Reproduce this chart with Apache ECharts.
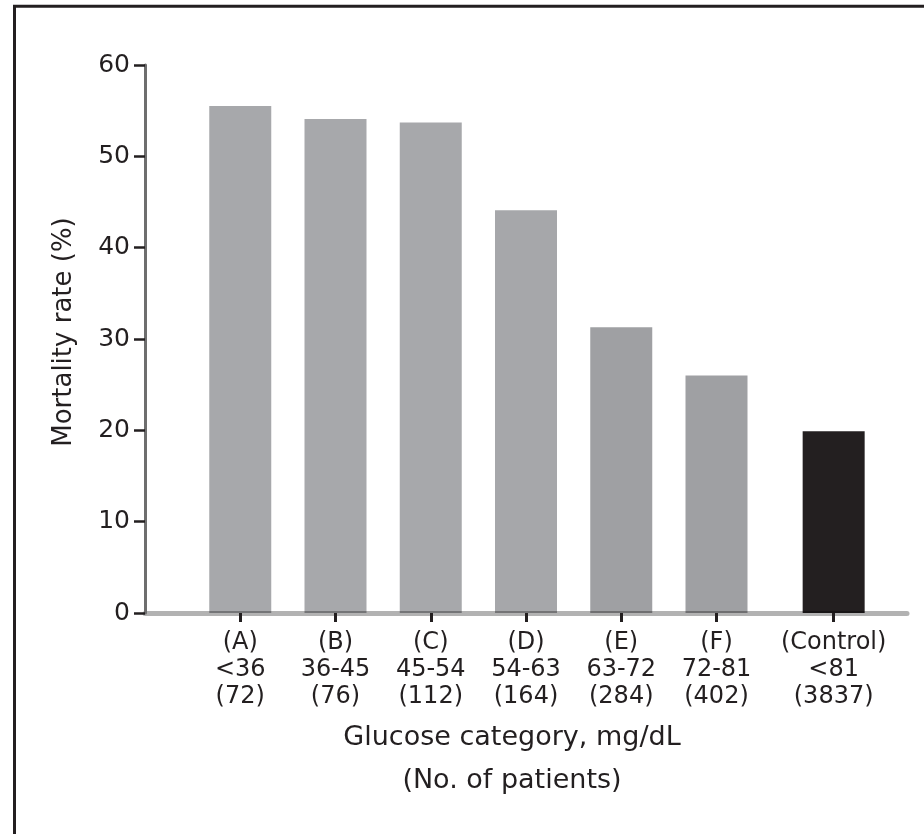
<!DOCTYPE html>
<html><head><meta charset="utf-8">
<script src="https://cdn.jsdelivr.net/npm/echarts@6/dist/echarts.min.js"></script>
<style>html,body{margin:0;padding:0;background:#fff}#c{width:924px;height:834px}</style>
</head><body><div id="c"></div>
<script>
// ---- data ----
const groupLetters = ['(A)', '(B)', '(C)', '(D)', '(E)', '(F)', '(Control)'];
const glucoseRanges = ['<36', '36-45', '45-54', '54-63', '63-72', '72-81', '<81'];
const patientCounts = ['(72)', '(76)', '(112)', '(164)', '(284)', '(402)', '(3837)'];
const mortalityRates = [55.5, 54.1, 53.7, 44.1, 31.3, 26.0, 19.9];
const yTickValues = [0, 10, 20, 30, 40, 50, 60];

// ---- layout / style ----
const controlGap = 0.23; // extra spacing before the control group
const barColors = ['#a7a8ab', '#a7a8ab', '#a7a8ab', '#a6a7aa', '#9fa0a3', '#9fa0a3', '#231f20'];
const FONT = 'DejaVu Sans';
const TXT = '#231f20';

const last = mortalityRates.length - 1;
const positions = mortalityRates.map((_, i) => i + 1 + (i === last ? controlGap : 0));
const labelFor = v => {
  const i = positions.findIndex(p => Math.abs(p - v) < 1e-6);
  return i < 0 ? '' : groupLetters[i] + '\n' + glucoseRanges[i] + '\n' + patientCounts[i];
};

const chart = echarts.init(document.getElementById('c'), null, {renderer: 'canvas'});
chart.setOption({
  animation: false,
  backgroundColor: '#fff',
  grid: {left: 145, right: 17, top: 65, bottom: 221, containLabel: false},
  xAxis: {
    type: 'value', min: 0, max: 8, z: 3,
    splitLine: {show: false},
    axisLine: {show: true, onZero: false, lineStyle: {color: 'rgba(0,0,0,0.3)', width: 5}},
    axisTick: {show: true, customValues: positions, length: 9, lineStyle: {color: '#231f20', width: 3}},
    axisLabel: {
      customValues: positions, formatter: labelFor, margin: 16,
      color: TXT, fontFamily: FONT, fontSize: 24, lineHeight: 27
    },
    name: 'Glucose category, mg/dL\n(No. of patients)',
    nameLocation: 'middle', nameGap: 103,
    nameTextStyle: {color: TXT, fontFamily: FONT, fontSize: 27, lineHeight: 43, padding: [0, 28, 0, 0]}
  },
  yAxis: {
    type: 'value', min: 0, max: 60, interval: 10, z: 4,
    splitLine: {show: false},
    axisLine: {show: true, lineStyle: {color: '#6e6e6e', width: 3}},
    axisTick: {show: true, length: 11, lineStyle: {color: '#231f20', width: 2.5}},
    axisLabel: {
      customValues: yTickValues, margin: 15,
      color: TXT, fontFamily: FONT, fontSize: 25
    },
    name: 'Mortality rate (%)',
    nameLocation: 'middle', nameGap: 68, nameRotate: 90,
    nameTextStyle: {color: TXT, fontFamily: FONT, fontSize: 26, padding: [0, 0, 0, 14]}
  },
  series: [{
    type: 'bar',
    barWidth: 62,
    data: positions.map((p, i) => [p, mortalityRates[i]]),
    itemStyle: {color: params => barColors[params.dataIndex]}
  }],
  graphic: [{
    type: 'polyline',
    shape: {points: [[14.5, 834], [14.5, 6.2], [924, 6.2]]},
    style: {stroke: '#231f20', lineWidth: 3, fill: null}
  }]
});
</script></body></html>
